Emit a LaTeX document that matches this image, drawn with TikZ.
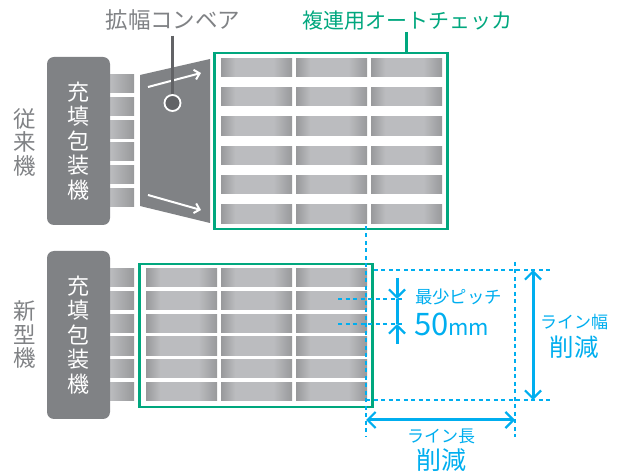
\documentclass[tikz,border=0pt]{standalone}
\usepackage{fontspec}
\setmainfont{Noto Sans CJK JP}
\usetikzlibrary{arrows.meta}
\definecolor{machinegray}{HTML}{808285}
\definecolor{leadergray}{HTML}{626366}
\definecolor{checkgreen}{HTML}{00A77E}
\definecolor{dimblue}{HTML}{00AEEF}
\definecolor{rowlight}{HTML}{BBBCBF}
\definecolor{rowdark}{HTML}{98999B}
\pgfdeclarehorizontalshading{rowshade}{100bp}{color(0bp)=(rowdark);color(25bp)=(rowdark);color(35bp)=(rowlight);color(62bp)=(rowlight);color(75bp)=(rowdark);color(100bp)=(rowdark)}
\pgfdeclarehorizontalshading{stubshade}{100bp}{color(0bp)=(rowlight);color(25bp)=(rowlight);color(75bp)=(rowdark);color(100bp)=(rowdark)}
\tikzset{
  machine/.style={fill=machinegray,rounded corners=7pt,minimum width=63pt,minimum height=168pt,inner sep=0pt,text=white,align=center,font=\fontsize{22}{24.6}\selectfont},
  checker/.style={draw=checkgreen,line width=2.6pt,inner sep=0pt},
  side/.style={text=machinegray,align=center,inner sep=0pt,font=\fontsize{22.5}{23.5}\selectfont},
  dim/.style={dimblue,line width=3pt},
  dimtip/.tip={Straight Barb[length=8pt,width=16pt,line width=2.2pt]},
  guide/.style={dimblue,line width=1.2pt,dash pattern=on 4pt off 3.5pt},
  bluetext/.style={text=dimblue,inner sep=0pt}
}
\begin{document}
\begin{tikzpicture}[x=1pt,y=-1pt]
\useasboundingbox (0,0) rectangle (622,473);
% old line
\foreach \ya/\yb in {75/93,98/116,121/139,143/161,166/184,189/207}
  \shade[shading=stubshade] (110,\ya) rectangle (134,\yb);
\node[machine] (oldmachine) at (78.5,141) {充\\填\\包\\装\\機};
\node[side] (oldside) at (25,142) {従\\来\\機};
\fill[machinegray] (140,75) -- (210,59) -- (210,223) -- (140,206) -- cycle;
\draw[white,line width=2pt,-{Straight Barb[length=5pt,width=10pt]}] (148,87) -- (201,73);
\draw[white,line width=2pt,-{Straight Barb[length=5pt,width=10pt]}] (148,195) -- (201,210);
\foreach \ya/\yb in {59/77,88/106,117/136,147/165,176/194,205/224}
  \foreach \xa/\xb in {221/292,296/367,371/442}
    \shade[shading=rowshade] (\xa,\ya) rectangle (\xb,\yb);
\node[checker,minimum width=233pt,minimum height=176pt] (oldchecker) at (331,141) {};
\node[text=machinegray,inner sep=0pt,font=\fontsize{22.5}{24}\selectfont] (conveyorlabel) at (173,20) {拡幅コンベア};
\node[draw=white,line width=1.8pt,fill=leadergray,circle,minimum size=16pt,inner sep=0pt] (pivot) at (172.5,103) {};
\draw[leadergray,line width=2.8pt] (conveyorlabel.south -| pivot) ++(0,5) -- (pivot.north);
\node[text=checkgreen,inner sep=0pt,font=\fontsize{21}{24}\selectfont] (checkerlabel) at (407,21) {複連用オートチェッカ};
\draw[checkgreen,line width=3pt] (checkerlabel.south) ++(-1,1) -- (oldchecker.north -| 406,0);
% new line
\foreach \ya/\yb in {269/287,292/310,315/333,337/356,360/378,383/401}
  \shade[shading=stubshade] (110,\ya) rectangle (134,\yb);
\node[machine] (newmachine) at (78.5,335) {充\\填\\包\\装\\機};
\node[side] (newside) at (25,335) {新\\型\\機};
\foreach \ya/\yb in {269/287,292/310,315/333,337/356,360/378,383/401}
  \foreach \xa/\xb in {146/217,221/292,296/367}
    \shade[shading=rowshade] (\xa,\ya) rectangle (\xb,\yb);
\node[checker,minimum width=233pt,minimum height=143pt] (newchecker) at (256,335.5) {};
% dimensions
\coordinate (lenA) at (366,420);
\coordinate (lenB) at (515,420);
\coordinate (widA) at (533,270);
\coordinate (widB) at (533,400);
\coordinate (pitchA) at (397,299);
\coordinate (pitchB) at (397,324);
\draw[guide] (lenA |- 0,226) -- (lenA |- 0,437);
\draw[guide] (lenB |- 0,262) -- (lenB |- 0,437);
\draw[guide] (newchecker.east |- widA) -- (553,270);
\draw[guide] (lenA |- widB) -- (553,400);
\draw[guide] (338,299) -- (405,299);
\draw[guide] (338,324) -- (405,324);
\draw[dim,dimtip-dimtip] (lenA) -- (lenB);
\draw[dim,dimtip-dimtip] (widA) -- (widB);
\draw[dim,-dimtip] (397,278) -- (pitchA);
\draw[dim,-dimtip] (397,344) -- (pitchB);
\draw[dim] (pitchA) -- (pitchB);
\node[bluetext,font=\fontsize{17.4}{20}\selectfont] (pitchlabel) at (458.5,297) {最少ピッチ};
\node[bluetext,anchor=base west] (pitchvalue) at (414,336) {\fontsize{31}{32}\selectfont 50\fontsize{22}{24}\selectfont mm};
\node[bluetext,font=\fontsize{17}{20}\selectfont] (widthlabel) at (574,322) {ライン幅};
\node[bluetext,font=\fontsize{24.5}{26}\selectfont] (widthcut) at (574,347) {削減};
\node[bluetext,font=\fontsize{17}{20}\selectfont] (lengthlabel) at (441,436) {ライン長};
\node[bluetext,font=\fontsize{25}{26}\selectfont] (lengthcut) at (441,460) {削減};
\end{tikzpicture}
\end{document}
